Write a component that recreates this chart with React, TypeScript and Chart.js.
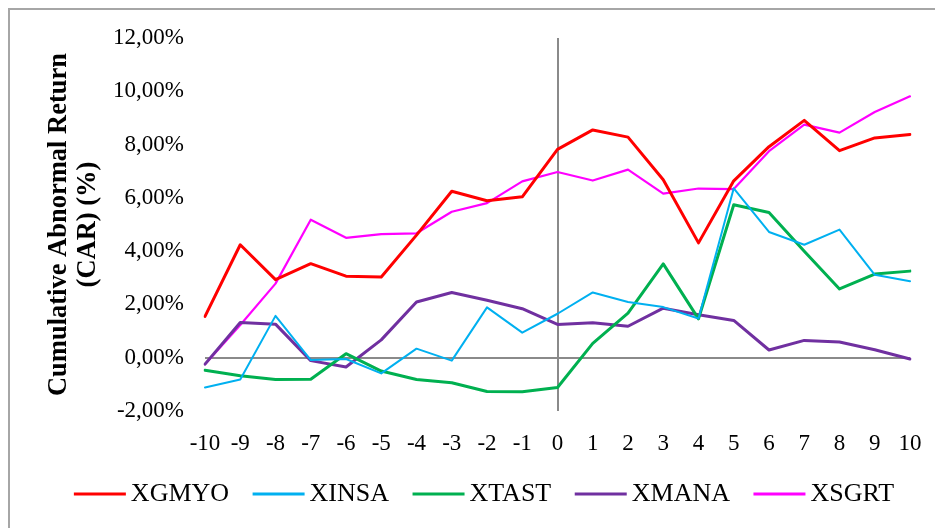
import React, { useEffect, useRef } from 'react';
import { Chart, registerables } from 'chart.js';

Chart.register(...registerables);

const categories = ['-10', '-9', '-8', '-7', '-6', '-5', '-4', '-3', '-2', '-1', '0', '1', '2', '3', '4', '5', '6', '7', '8', '9', '10'];

const xgmyo = [1.55, 4.24, 2.93, 3.53, 3.06, 3.03, 4.6, 6.25, 5.89, 6.04, 7.82, 8.55, 8.28, 6.68, 4.31, 6.64, 7.92, 8.91, 7.77, 8.25, 8.38];
const xinsa = [-1.12, -0.82, 1.57, -0.09, -0.05, -0.59, 0.34, -0.11, 1.89, 0.94, 1.65, 2.45, 2.09, 1.9, 1.47, 6.36, 4.72, 4.24, 4.81, 3.11, 2.87];
const xtast = [-0.47, -0.68, -0.82, -0.81, 0.15, -0.5, -0.82, -0.94, -1.27, -1.28, -1.12, 0.54, 1.67, 3.52, 1.46, 5.74, 5.45, 4.0, 2.58, 3.14, 3.25];
const xmana = [-0.24, 1.32, 1.26, -0.11, -0.35, 0.67, 2.09, 2.45, 2.16, 1.84, 1.25, 1.31, 1.18, 1.86, 1.61, 1.4, 0.29, 0.65, 0.59, 0.3, -0.05];
const xsgrt = [-0.25, 1.23, 2.78, 5.18, 4.5, 4.64, 4.67, 5.48, 5.8, 6.62, 6.97, 6.65, 7.06, 6.16, 6.35, 6.33, 7.75, 8.75, 8.45, 9.22, 9.81];

const seriesNames = ['XGMYO', 'XINSA', 'XTAST', 'XMANA', 'XSGRT'];
const seriesColors = ['#FF0000', '#00B0F0', '#00B050', '#7030A0', '#FF00FF'];
const seriesWidths = [3, 2, 3, 3, 2.2];

const yMin = -2;
const yMax = 12;
const yStep = 2;
const yTitle = ['Cumulative Abnormal Return', '(CAR) (%)'];

const SERIF = '"Liberation Serif", "Times New Roman", serif';
const AXIS_GRAY = '#8a8a8a';
const CLEAR = 'rgba(0,0,0,0)';

if (typeof document !== 'undefined') {
  document.documentElement.style.overflow = 'hidden';
  document.body.style.overflow = 'hidden';
}

// Excel-style legend: short line, small gap, label; centred row under the axis labels.
const lineLegend = {
  id: 'lineLegend',
  afterDraw(chart: any) {
    const ctx = chart.ctx as CanvasRenderingContext2D;
    ctx.save();
    ctx.font = `26px ${SERIF}`;
    ctx.textBaseline = 'middle';
    ctx.textAlign = 'left';
    const lineW = 52;
    const textGap = 5;
    const itemGap = 23.5;
    const items = chart.data.datasets.map((ds: any) => ({
      label: String(ds.label),
      color: ds.borderColor as string,
      w: ctx.measureText(String(ds.label)).width,
    }));
    const total =
      items.reduce((s: number, it: any) => s + lineW + textGap + it.w, 0) + itemGap * (items.length - 1);
    let x = 474 - total / 2;
    const y = chart.height - 34;
    items.forEach((it: any) => {
      ctx.fillStyle = it.color;
      ctx.fillRect(x, y - 1.5, lineW, 3);
      x += lineW + textGap;
      ctx.fillStyle = '#000';
      ctx.fillText(it.label, x, y);
      x += it.w + itemGap;
    });
    ctx.restore();
  },
};

export default function App() {
  const canvasRef = useRef<HTMLCanvasElement | null>(null);

  useEffect(() => {
    if (!canvasRef.current) return;
    const dataArrays = [xgmyo, xinsa, xtast, xmana, xsgrt];
    const chart = new Chart(canvasRef.current, {
      type: 'line',
      data: {
        labels: categories,
        datasets: dataArrays.map((d, i) => ({
          label: seriesNames[i],
          data: d,
          borderColor: seriesColors[i],
          backgroundColor: seriesColors[i],
          borderWidth: seriesWidths[i],
          pointRadius: 0,
          pointHoverRadius: 0,
          tension: 0,
          fill: false,
          borderJoinStyle: 'round',
          borderCapStyle: 'round',
          yAxisID: 'y',
        })),
      },
      options: {
        responsive: false,
        animation: false,
        events: [],
        layout: { padding: { left: 18, right: 0, top: 28, bottom: 58 } },
        plugins: {
          tooltip: { enabled: false },
          legend: { display: false },
        },
        scales: {
          x: {
            type: 'category',
            offset: false,
            border: { display: false },
            grid: {
              drawTicks: true,
              tickLength: 14,
              tickColor: CLEAR,
              lineWidth: 2,
              color: (ctx: any) => (ctx.tick && ctx.tick.value === 10 ? AXIS_GRAY : CLEAR),
            },
            ticks: {
              color: '#000',
              padding: 5,
              maxRotation: 0,
              autoSkip: false,
              font: { family: SERIF, size: 23 },
            },
            afterFit: (s: any) => {
              s.height = 59;
            },
          },
          y: {
            type: 'linear',
            position: 'left',
            min: yMin,
            max: yMax,
            border: { display: false },
            grid: {
              drawTicks: true,
              tickLength: 16,
              tickColor: CLEAR,
              lineWidth: 2,
              color: (ctx: any) => (ctx.tick && ctx.tick.value === 0 ? AXIS_GRAY : CLEAR),
            },
            ticks: {
              stepSize: yStep,
              color: '#000',
              padding: 5,
              font: { family: SERIF, size: 23 },
              callback: (v: any) => Number(v).toFixed(2).replace('.', ',') + '%',
            },
            title: {
              display: true,
              text: yTitle,
              color: '#000',
              font: { family: SERIF, size: 26.5, weight: 'bold', lineHeight: 1.094 },
              padding: { top: 16.5, bottom: 0 },
            },
            afterFit: (s: any) => {
              s.width = 177;
            },
          },
          yR: {
            type: 'linear',
            position: 'right',
            display: true,
            border: { display: false },
            grid: { display: false, drawTicks: false },
            ticks: { display: false },
            afterFit: (s: any) => {
              s.width = 33;
            },
          },
        },
      },
      plugins: [lineLegend],
    } as any);
    return () => chart.destroy();
  }, []);

  return (
    <div
      style={{
        width: 935,
        height: 520,
        boxSizing: 'border-box',
        borderTop: '2px solid #a6a6a6',
        borderLeft: '2px solid #a6a6a6',
        background: '#fff',
      }}
    >
      <canvas ref={canvasRef} width={933} height={518} style={{ display: 'block', width: 933, height: 518 }} />
    </div>
  );
}
